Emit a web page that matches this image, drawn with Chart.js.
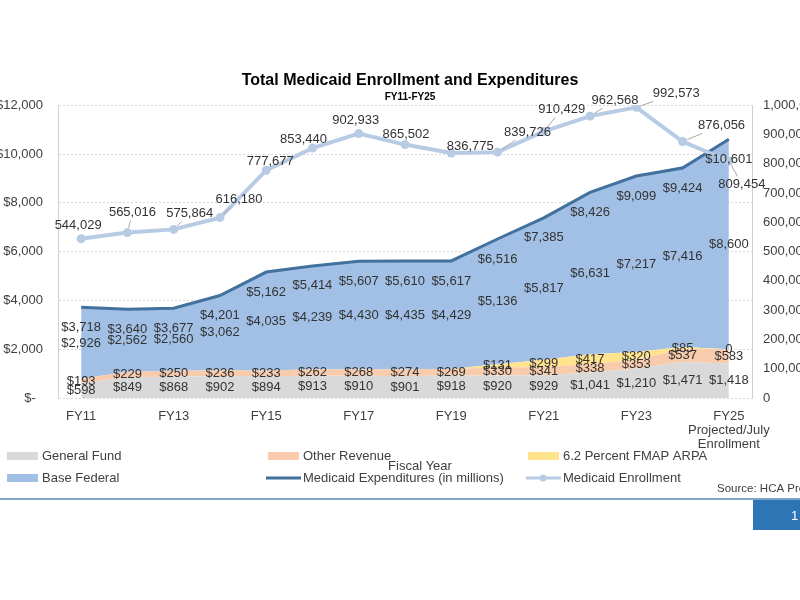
<!DOCTYPE html>
<html>
<head>
<meta charset="utf-8">
<script src="https://cdn.jsdelivr.net/npm/chart.js@4.4.1/dist/chart.umd.min.js"></script>
<style>
  html, body { margin: 0; padding: 0; background: #fff; overflow: hidden; }
  #wrap { position: relative; width: 800px; height: 600px; overflow: hidden; }
  #chart { position: absolute; left: -20px; top: 0; }
</style>
</head>
<body>
<div id="wrap"><canvas id="chart" width="860" height="600"></canvas></div>
<script>
// values, in millions of dollars / people enrolled
const fiscalYears = ["FY11", "FY12", "FY13", "FY14", "FY15", "FY16", "FY17", "FY18", "FY19", "FY20",
    "FY21", "FY22", "FY23", "FY24", ["FY25", "Projected/July", "Enrollment"]]
const generalFund = [598, 849, 868, 902, 894, 913, 910, 901, 918, 920, 929, 1041, 1210, 1471, 1418]
const otherRevenue = [193, 229, 250, 236, 233, 262, 268, 274, 269, 330, 341, 338, 353, 537, 583]
const fmapArpa = [null, null, null, null, null, null, null, null, null, 131, 299, 417, 320, 85, 0]
const baseFederal = [2926, 2562, 2560, 3062, 4035, 4239, 4430, 4435, 4429, 5136, 5817, 6631, 7217, 7416, 8600]
const totalExpenditures = [3718, 3640, 3677, 4201, 5162, 5414, 5607, 5610, 5617, 6516, 7385, 8426, 9099, 9424, 10601]
const enrollment = [544029, 565016, 575864, 616180, 777677, 853440, 902933, 865502, 836775, 839726,
    910429, 962568, 992573, 876056, 809454]

// label nudges for the enrollment numbers (dx, dy from the point)
const enrollNudge = [[-3, -13], [5, -20], [16, -16], [19, -18], [4, -9], [-9, -9], [-3, -13], [1, -10],
    [19, -7], [30, -20], [18, -22], [25, -16], [40, -14], [39, -16], [13, 23]]

const FONT = "'Liberation Sans', Arial, sans-serif"
const TEXT = "#404040"
const SHIFT = 20 // canvas sits 20px left of the page

Chart.defaults.font.family = FONT
Chart.defaults.color = TEXT

const money = (v) => v === 0 ? "0" : "$" + v.toLocaleString("en-US")

const valueLabels = {
    id: "valueLabels",
    afterDatasetsDraw(chart) {
        const ctx = chart.ctx
        const yScale = chart.scales.y
        ctx.save()
        ctx.font = "13px " + FONT
        ctx.fillStyle = "#333333"
        ctx.textAlign = "center"
        ctx.textBaseline = "middle"

        const bands = [generalFund, otherRevenue, fmapArpa, baseFederal]
        chart.getDatasetMeta(0).data.forEach((pt, i) => {
            let base = 0
            bands.forEach(band => {
                const v = band[i]
                if (v === null) return
                ctx.fillText(money(v), pt.x, yScale.getPixelForValue(base + v / 2))
                base += v
            })
        })

        chart.getDatasetMeta(4).data.forEach((pt, i) => {
            ctx.fillText(money(totalExpenditures[i]), pt.x, pt.y + 20)
        })

        chart.getDatasetMeta(5).data.forEach((pt, i) => {
            const [dx, dy] = enrollNudge[i]
            const text = enrollment[i].toLocaleString("en-US")
            const lx = pt.x + dx
            const ly = pt.y + dy
            // thin leader line when the label sits away from its point
            const dist = Math.hypot(dx, dy)
            if (dist > 20.5) {
                const hw = ctx.measureText(text).width / 2 + 2
                const hh = 8
                const t = Math.min(dx ? hw / Math.abs(dx) : 1, dy ? hh / Math.abs(dy) : 1)
                ctx.strokeStyle = "#a6a6a6"
                ctx.lineWidth = 1
                ctx.beginPath()
                ctx.moveTo(pt.x + dx / dist * 5, pt.y + dy / dist * 5)
                ctx.lineTo(lx - dx * t, ly - dy * t)
                ctx.stroke()
            }
            ctx.fillText(text, lx, ly)
        })
        ctx.restore()
    }
}

const slideDecor = {
    id: "slideDecor",
    afterDraw(chart) {
        const ctx = chart.ctx
        ctx.save()
        ctx.translate(SHIFT, 0)

        // legend, two rows of three
        const slots = [[7, 456], [268, 456], [528, 456], [7, 478], [268, 478], [528, 478]]
        ctx.font = "13px " + FONT
        ctx.textBaseline = "middle"
        chart.data.datasets.forEach((ds, i) => {
            const [x, y] = slots[i]
            if (ds.fill !== false) {
                ctx.fillStyle = ds.backgroundColor
                ctx.fillRect(x, y - 4, 31, 8)
            } else {
                ctx.strokeStyle = ds.borderColor
                ctx.lineWidth = 3
                ctx.beginPath()
                ctx.moveTo(x - 2, y)
                ctx.lineTo(x + 33, y)
                ctx.stroke()
                if (ds.pointRadius > 0) {
                    ctx.fillStyle = ds.borderColor
                    ctx.beginPath()
                    ctx.arc(x + 15, y, 3.5, 0, Math.PI * 2)
                    ctx.fill()
                }
            }
            ctx.fillStyle = TEXT
            ctx.textAlign = "left"
            ctx.fillText(ds.label, x + 35, y)
        })

        ctx.textAlign = "center"
        ctx.fillText("Fiscal Year", 420, 466)

        ctx.font = "11.5px " + FONT
        ctx.textAlign = "left"
        ctx.fillText("Source: HCA Projections", 717, 489)

        ctx.fillStyle = "#7ea4cc"
        ctx.fillRect(0, 498, 800, 2)
        ctx.fillStyle = "#2e75b6"
        ctx.fillRect(753, 500, 47, 30)
        ctx.fillStyle = "#ffffff"
        ctx.font = "13px " + FONT
        ctx.fillText("1", 791, 516)
        ctx.restore()
    }
}

const ctx = document.getElementById("chart").getContext("2d")

const config = {
    type: "line",
    data: {
        labels: fiscalYears,
        datasets: [
            {
                label: "General Fund",
                data: generalFund,
                stack: "funds",
                fill: "origin",
                backgroundColor: "#d9d9d9",
                borderWidth: 0,
                pointRadius: 0,
                order: 2
            },
            {
                label: "Other Revenue",
                data: otherRevenue,
                stack: "funds",
                fill: "-1",
                backgroundColor: "#f8cbad",
                borderWidth: 0,
                pointRadius: 0,
                order: 2
            },
            {
                label: "6.2 Percent FMAP ARPA",
                data: fmapArpa.map(v => v === null ? 0 : v),
                stack: "funds",
                fill: "-1",
                backgroundColor: "#ffe38f",
                borderWidth: 0,
                pointRadius: 0,
                order: 2
            },
            {
                label: "Base Federal",
                data: baseFederal,
                stack: "funds",
                fill: "-1",
                backgroundColor: "#a2c0e6",
                borderWidth: 0,
                pointRadius: 0,
                order: 2
            },
            {
                label: "Medicaid Expenditures (in millions)",
                data: totalExpenditures,
                stack: "total",
                fill: false,
                borderColor: "#41719c",
                borderWidth: 3,
                pointRadius: 0,
                order: 1
            },
            {
                label: "Medicaid Enrollment",
                data: enrollment,
                yAxisID: "y1",
                fill: false,
                borderColor: "#b8cbe4",
                backgroundColor: "#b8cbe4",
                borderWidth: 4,
                pointRadius: 4.5,
                pointBorderWidth: 0,
                order: 0
            }
        ]
    },
    options: {
        responsive: false,
        animation: false,
        layout: { padding: { top: 0, bottom: 142, left: 0, right: 0 } },
        elements: { line: { tension: 0 } },
        plugins: {
            legend: { display: false },
            tooltip: { enabled: false },
            title: {
                display: true,
                text: "Total Medicaid Enrollment and Expenditures",
                color: "#000000",
                font: { size: 16, weight: "bold" },
                padding: { top: 71, bottom: 0 }
            },
            subtitle: {
                display: true,
                text: "FY11-FY25",
                color: "#000000",
                font: { size: 10, weight: "bold" },
                padding: { top: 1, bottom: 2 }
            }
        },
        scales: {
            x: {
                offset: true,
                grid: { display: false },
                border: { display: false },
                ticks: {
                    autoSkip: false,
                    maxRotation: 0,
                    padding: 3,
                    color: TEXT,
                    font: { size: 13, lineHeight: 1.1 },
                    callback: (v, i) => i % 2 === 0 ? fiscalYears[i] : ""
                },
                afterFit: (scale) => { scale.height = 60 }
            },
            y: {
                stacked: true,
                min: 0,
                max: 12000,
                grid: { color: "#d9d9d9", drawTicks: false },
                border: { display: true, color: "#d0d0d0", dash: [2, 2] },
                ticks: {
                    stepSize: 2000,
                    padding: 15,
                    color: TEXT,
                    font: { size: 13 },
                    callback: (v) => v === 0 ? "$-  " : "$" + v.toLocaleString("en-US")
                },
                afterFit: (scale) => { scale.width = 78 }
            },
            y1: {
                position: "right",
                min: 0,
                max: 1000000,
                grid: { display: false, drawTicks: false },
                border: { display: true, color: "#d0d0d0", dash: [2, 2] },
                ticks: {
                    stepSize: 100000,
                    padding: 11,
                    color: TEXT,
                    font: { size: 13 },
                    callback: (v) => v.toLocaleString("en-US")
                },
                afterFit: (scale) => { scale.width = 88 }
            }
        }
    },
    plugins: [valueLabels, slideDecor]
}

const medicaidChart = new Chart(ctx, config)
</script>
</body>
</html>
